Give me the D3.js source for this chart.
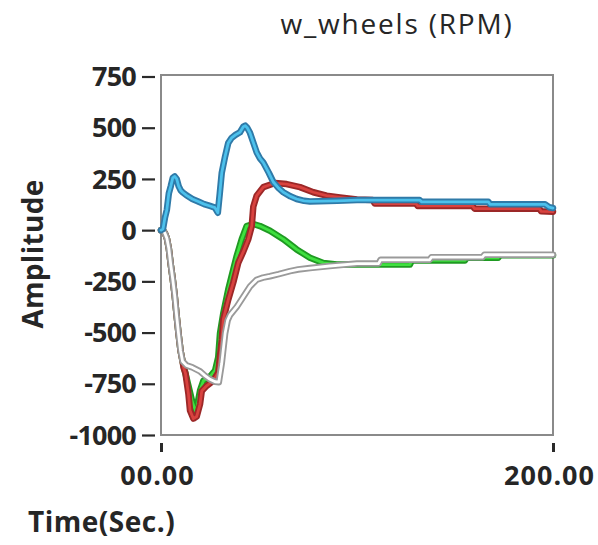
<!DOCTYPE html>
<html>
<head>
<meta charset="utf-8">
<script src="https://cdn.jsdelivr.net/npm/d3@7/dist/d3.min.js"></script>
<style>
  html, body { margin: 0; padding: 0; background: #ffffff; }
  svg { display: block; }
  text { font-family: "Open Sans", "DejaVu Sans", sans-serif; fill: #262626; }
</style>
</head>
<body>
<svg id="chart" width="598" height="545"></svg>
<script>
// ---- data ----
const chartTitle = "w_wheels (RPM)";
const yAxisTitle = "Amplitude";
const xAxisTitle = "Time(Sec.)";
const yTickValues = [750, 500, 250, 0, -250, -500, -750, -1000];
const xTickValues = [0, 200];
const xTickLabels = ["00.00", "200.00"];

const blueT = [0, 1, 2, 3, 4, 5, 6, 7, 8, 9, 10, 11, 13, 16, 19, 22, 25, 27.5, 29, 30, 31, 32.7, 34.3, 36, 38, 40.3, 42, 43, 44, 45.4, 47, 48.8, 50.5, 52.2, 55, 57.3, 60, 62.4, 66, 69.2, 73, 76, 90, 100, 132, 133, 167, 168, 196, 198, 200];
const blueV = [0, 5, 60, 100, 180, 215, 255, 262, 250, 215, 195, 185, 170, 152, 140, 127, 118, 110, 85, 180, 280, 360, 425, 450, 465, 478, 505, 510, 500, 475, 430, 380, 350, 330, 280, 235, 205, 185, 165, 152, 143, 140, 143, 147, 147, 138, 138, 126, 126, 112, 108];

const redT = [0, 1, 2, 3, 4, 5, 6, 7, 8, 9, 10, 11, 11.5, 12.5, 14, 14.8, 16.5, 18.2, 19.9, 20.8, 23.3, 26.7, 29.2, 30.1, 31, 31.8, 34.3, 36.9, 39.4, 42, 44.5, 46.3, 47.1, 48.8, 52.2, 58.2, 64.1, 70.9, 77.7, 84.5, 91.3, 100, 108, 109, 130, 131, 159, 160, 193, 194, 200];
const redV = [0, 0, -15, -40, -90, -170, -240, -320, -420, -510, -590, -640, -670, -700, -800, -880, -920, -910, -850, -785, -760, -735, -695, -615, -535, -435, -340, -255, -160, -105, -45, 20, 115, 168, 210, 230, 225, 210, 185, 168, 160, 150, 147, 130, 130, 118, 118, 105, 105, 92, 90];

const greenT = [0, 1, 2, 3, 4, 5, 6, 7, 8, 9, 10, 11, 12, 14, 16, 18, 19, 20, 21.6, 25, 27.6, 29.2, 30.1, 31.8, 34.3, 36, 38.6, 41.2, 43.7, 47.1, 50.5, 55.6, 62.4, 69.2, 76, 82.8, 89.6, 100, 127, 128, 155, 156, 172, 173, 200];
const greenV = [0, 0, -15, -40, -90, -170, -240, -320, -420, -510, -590, -640, -680, -760, -840, -890, -830, -780, -735, -715, -685, -620, -505, -405, -290, -225, -127, -44, 20, 30, 20, -3, -44, -94, -135, -160, -168, -168, -168, -148, -148, -135, -135, -122, -122];

const grayT = [0, 1, 2, 3, 4, 5, 6, 7, 8, 9, 10, 11, 13, 16, 18, 20, 22.4, 25, 27.6, 29.5, 31, 32.7, 34, 35.2, 38.6, 42, 45.4, 48.8, 52, 55.6, 60, 65.8, 70, 76, 86, 100, 111, 112, 137, 138, 164, 165, 200];
const grayV = [0, 0, -15, -40, -90, -170, -240, -320, -420, -510, -590, -640, -660, -670, -680, -690, -710, -728, -740, -742, -650, -505, -440, -415, -375, -325, -275, -242, -232, -225, -215, -200, -192, -185, -175, -163, -163, -145, -145, -132, -132, -120, -120];

// ---- layout ----
const svg = d3.select("#chart");
const plotL = 161, plotR = 553, plotT = 76.5, plotB = 435;

const x = d3.scaleLinear().domain([0, 200]).range([plotL, plotR]);
const y = d3.scaleLinear().domain([-1000, 750]).range([plotB, plotT]);

// plot frame
svg.append("rect")
  .attr("x", plotL).attr("y", plotT - 1.5)
  .attr("width", plotR - plotL).attr("height", plotB - plotT + 1.5)
  .attr("fill", "none").attr("stroke", "#8a8a8a").attr("stroke-width", 2);

// series
const series = [
  { t: greenT, v: greenV, outer: "#1f9a22", inner: "#3fe03f" },
  { t: redT,   v: redV,   outer: "#9c2828", inner: "#d9423f" },
  { t: grayT,  v: grayV,  outer: "#9a9a9a", inner: "#ffffff" },
  { t: blueT,  v: blueV,  outer: "#2f7aa8", inner: "#4cc1ec" }
];
const line = d3.line().x(d => x(d[0])).y(d => y(d[1])).curve(d3.curveLinear);
const gLines = svg.append("g");
series.forEach(s => {
  const pts = s.t.map((t, i) => [t, s.v[i]]);
  gLines.append("path").datum(pts).attr("d", line)
    .attr("fill", "none").attr("stroke", s.outer).attr("stroke-width", 6.5)
    .attr("stroke-linejoin", "round").attr("stroke-linecap", "round");
  gLines.append("path").datum(pts).attr("d", line)
    .attr("fill", "none").attr("stroke", s.inner).attr("stroke-width", 2.8)
    .attr("stroke-linejoin", "round").attr("stroke-linecap", "round");
});

// y axis
const yAxis = d3.axisLeft(y).tickValues(yTickValues).tickSize(13).tickPadding(6).tickFormat(d => String(d));
const gy = svg.append("g").attr("transform", `translate(${plotL - 6},0)`).call(yAxis);
gy.select(".domain").remove();
gy.selectAll(".tick line").attr("stroke", "#2a2a2a").attr("stroke-width", 2.2);
gy.selectAll(".tick text")
  .style("font-family", "'Open Sans', sans-serif")
  .style("font-weight", 700).style("font-size", "27px")
  .style("letter-spacing", "-0.8px")
  .attr("fill", "#262626").attr("dy", "0.34em");

// x axis
const xAxis = d3.axisBottom(x).tickValues(xTickValues).tickSize(9).tickPadding(14)
  .tickFormat((d, i) => xTickLabels[i]);
const gx = svg.append("g").attr("transform", `translate(0,${plotB + 8})`).call(xAxis);
gx.select(".domain").remove();
gx.selectAll(".tick line").attr("stroke", "#2a2a2a").attr("stroke-width", 3);
gx.selectAll(".tick text")
  .style("font-family", "'Open Sans', sans-serif")
  .style("font-weight", 700).style("font-size", "27px")
  .style("letter-spacing", "1px")
  .attr("fill", "#262626").attr("dx", "-4");

// titles
svg.append("text").attr("x", 397).attr("y", 34).attr("text-anchor", "middle")
  .style("font-size", "28px").style("font-weight", 400).style("letter-spacing", "1.8px")
  .text(chartTitle);

svg.append("text").attr("transform", "translate(43,254) rotate(-90)")
  .attr("text-anchor", "middle")
  .style("font-size", "28px").style("font-weight", 700).style("letter-spacing", "0.3px")
  .text(yAxisTitle);

svg.append("text").attr("x", 28).attr("y", 532)
  .style("font-size", "28px").style("font-weight", 700).style("letter-spacing", "0.5px")
  .text(xAxisTitle);
</script>
</body>
</html>
